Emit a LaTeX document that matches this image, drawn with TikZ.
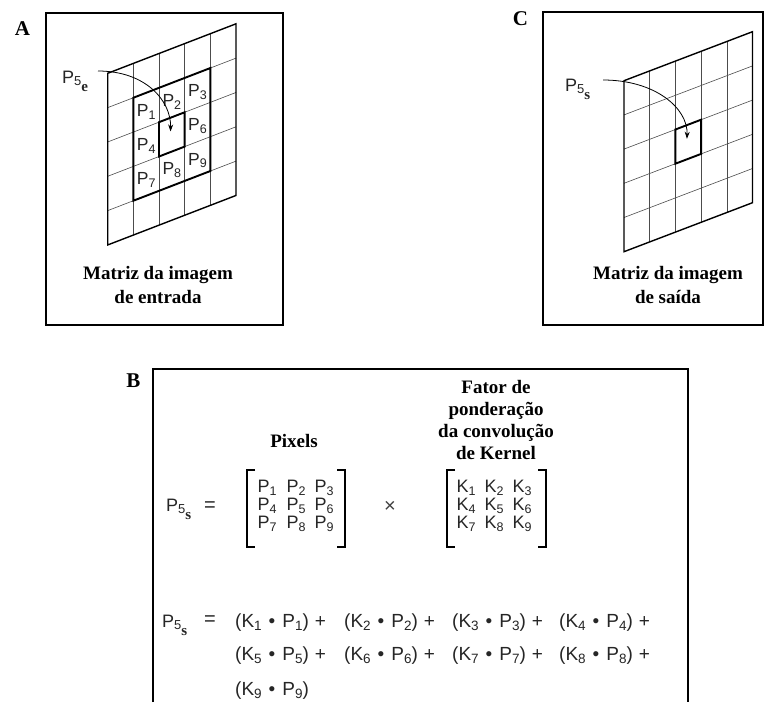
\documentclass[tikz,border=0pt]{standalone}
\usepackage{fontspec}
\setmainfont{Liberation Serif}
\setsansfont{Liberation Sans}
\usetikzlibrary{arrows.meta}
\newcommand{\Pfive}[1]{P\raisebox{-0.3ex}{\fontsize{13}{13}\selectfont 5}\raisebox{-0.85ex}{\rmfamily\bfseries\fontsize{15}{15}\selectfont #1}}
\newcommand{\Psub}[2]{#1\raisebox{-0.32ex}{\fontsize{12.5}{12.5}\selectfont #2}}
\newcommand{\Tsub}[2]{#1\raisebox{-0.32ex}{\fontsize{13.5}{13.5}\selectfont #2}}
\tikzset{
  panel/.style={draw, line width=1.8pt},
  panellabel/.style={font=\rmfamily\bfseries\fontsize{21}{22}\selectfont, inner sep=0pt},
  caption/.style={font=\rmfamily\bfseries\fontsize{19}{24}\selectfont, align=center, inner sep=0pt},
  title/.style={font=\rmfamily\bfseries\fontsize{19}{22.3}\selectfont, align=center, inner sep=0pt},
  gridthin/.style={draw=black!70, line width=0.6pt},
  gridedge/.style={draw, line width=1.4pt, line join=miter},
  block/.style={draw, line width=1.9pt, line join=miter},
  cell/.style={font=\sffamily\fontsize{17.5}{17.5}\selectfont, inner sep=0pt, text=black!85},
  sans/.style={font=\sffamily\fontsize{18}{18}\selectfont, inner sep=0pt, text=black!85},
  term/.style={font=\sffamily\fontsize{19}{19}\selectfont, inner sep=0pt, text=black!85},
  brk/.style={draw, line width=2pt},
  curvearrow/.style={draw, line width=0.8pt, -{Stealth[length=7pt,width=5pt]}}
}
\begin{document}
\begin{tikzpicture}[x=1pt,y=-1pt]
\useasboundingbox (0,0) rectangle (768,702);
\fill[white] (0,0) rectangle (768,702);

% ---------- Panel A ----------
\draw[panel] (46,13) rectangle (283,325);
\node[panellabel] (labA) at (22.5,28.5) {A};
\begin{scope}[shift={(107.7,73.3)}, x={(25.66pt,9.9pt)}, y={(0pt,-34.33pt)}]
  \foreach \i in {1,...,4} \draw[gridthin] (\i,0) -- (\i,5);
  \foreach \j in {1,...,4} \draw[gridthin] (0,\j) -- (5,\j);
  \draw[gridedge] (0,0) -- (5,0) -- (5,5) -- (0,5) -- cycle;
  \draw[block] (1,1) -- (4,1) -- (4,4) -- (1,4) -- cycle;
  \draw[block] (2,2) -- (3,2) -- (3,3) -- (2,3) -- cycle;
  \node[cell] (pa1) at (1.5,1.55) {\Psub{P}{1}};
  \node[cell] (pa2) at (2.5,1.55) {\Psub{P}{2}};
  \node[cell] (pa3) at (3.5,1.55) {\Psub{P}{3}};
  \node[cell] (pa4) at (1.5,2.55) {\Psub{P}{4}};
  \node[cell] (pa6) at (3.5,2.55) {\Psub{P}{6}};
  \node[cell] (pa7) at (1.5,3.55) {\Psub{P}{7}};
  \node[cell] (pa8) at (2.5,3.55) {\Psub{P}{8}};
  \node[cell] (pa9) at (3.5,3.55) {\Psub{P}{9}};
  \coordinate (tipA) at (2.45,2.4);
\end{scope}
\node[sans, anchor=base west] (p5e) at (62,83) {\Pfive{e}};
\coordinate (startA) at (98,71);
\draw[curvearrow] (startA) .. controls (145,71) and (171,100) .. (tipA);
\node[caption] (capA) at (158,285) {Matriz da imagem\\de entrada};

% ---------- Panel C ----------
\draw[panel] (543,12) rectangle (763,325);
\node[panellabel] (labC) at (520.5,19) {C};
\begin{scope}[shift={(624,80.7)}, x={(25.7pt,9.8pt)}, y={(0pt,-34.2pt)}]
  \foreach \i in {1,...,4} \draw[gridthin] (\i,0) -- (\i,5);
  \foreach \j in {1,...,4} \draw[gridthin] (0,\j) -- (5,\j);
  \draw[gridedge] (0,0) -- (5,0) -- (5,5) -- (0,5) -- cycle;
  \draw[block] (2,2) -- (3,2) -- (3,3) -- (2,3) -- cycle;
  \coordinate (tipC) at (2.45,2.4);
\end{scope}
\node[sans, anchor=base west] (p5s) at (565,91) {\Pfive{s}};
\coordinate (startC) at (603,80);
\draw[curvearrow] (startC) .. controls (655,80) and (688,108) .. (tipC);
\node[caption] (capC) at (668,285) {Matriz da imagem\\de saída};

% ---------- Panel B ----------
\draw[panel] (153,702) -- (153,369) -- (688,369) -- (688,702);
\node[panellabel] (labB) at (133.5,380.5) {B};
\node[title] (pix) at (294,441) {Pixels};
\node[title] (fat) at (496,420) {Fator de\\ponderação\\da convolução\\de Kernel};

\node[sans, anchor=base west] (p5sB) at (166,511) {\Pfive{s}};
\node[sans, anchor=base west, font=\sffamily\fontsize{20}{20}\selectfont] (eqB) at (204,511) {=};

% P matrix
\draw[brk] (255,470) -- (247,470) -- (247,547) -- (255,547);
\draw[brk] (337,470) -- (345,470) -- (345,547) -- (337,547);
\foreach \n/\cx/\cy in {1/267/492,2/296/492,3/324/492,4/267/510,5/296/510,6/324/510,7/267/528,8/296/528,9/324/528}
  \node[sans, anchor=base] (pm\n) at (\cx,\cy) {\Psub{P}{\n}};

\node[sans, font=\sffamily\fontsize{20}{20}\selectfont, text=black!75] (times) at (390,507) {×};

% K matrix
\draw[brk] (455,470) -- (447,470) -- (447,547) -- (455,547);
\draw[brk] (538,470) -- (546,470) -- (546,547) -- (538,547);
\foreach \n/\cx/\cy in {1/466/492,2/494/492,3/522/492,4/466/510,5/494/510,6/522/510,7/466/528,8/494/528,9/522/528}
  \node[sans, anchor=base] (km\n) at (\cx,\cy) {\Psub{K}{\n}};

% Sum formula
\node[sans, anchor=base west] (p5sC) at (162,627) {\Pfive{s}};
\node[sans, anchor=base west, font=\sffamily\fontsize{20}{20}\selectfont] (eqC) at (204,625) {=};
\foreach \n/\tx/\ty in {1/235/627,2/344/627,3/452/627,4/559/627,5/235/660,6/344/660,7/452/660,8/559/660}
  \node[term, anchor=base west] (t\n) at (\tx,\ty) {(\Tsub{K}{\n}\hspace{7pt}•\hspace{7pt}\Tsub{P}{\n})\hspace{6pt}+};
\node[term, anchor=base west] (t9) at (235,695) {(\Tsub{K}{9}\hspace{7pt}•\hspace{7pt}\Tsub{P}{9})};
\end{tikzpicture}
\end{document}
